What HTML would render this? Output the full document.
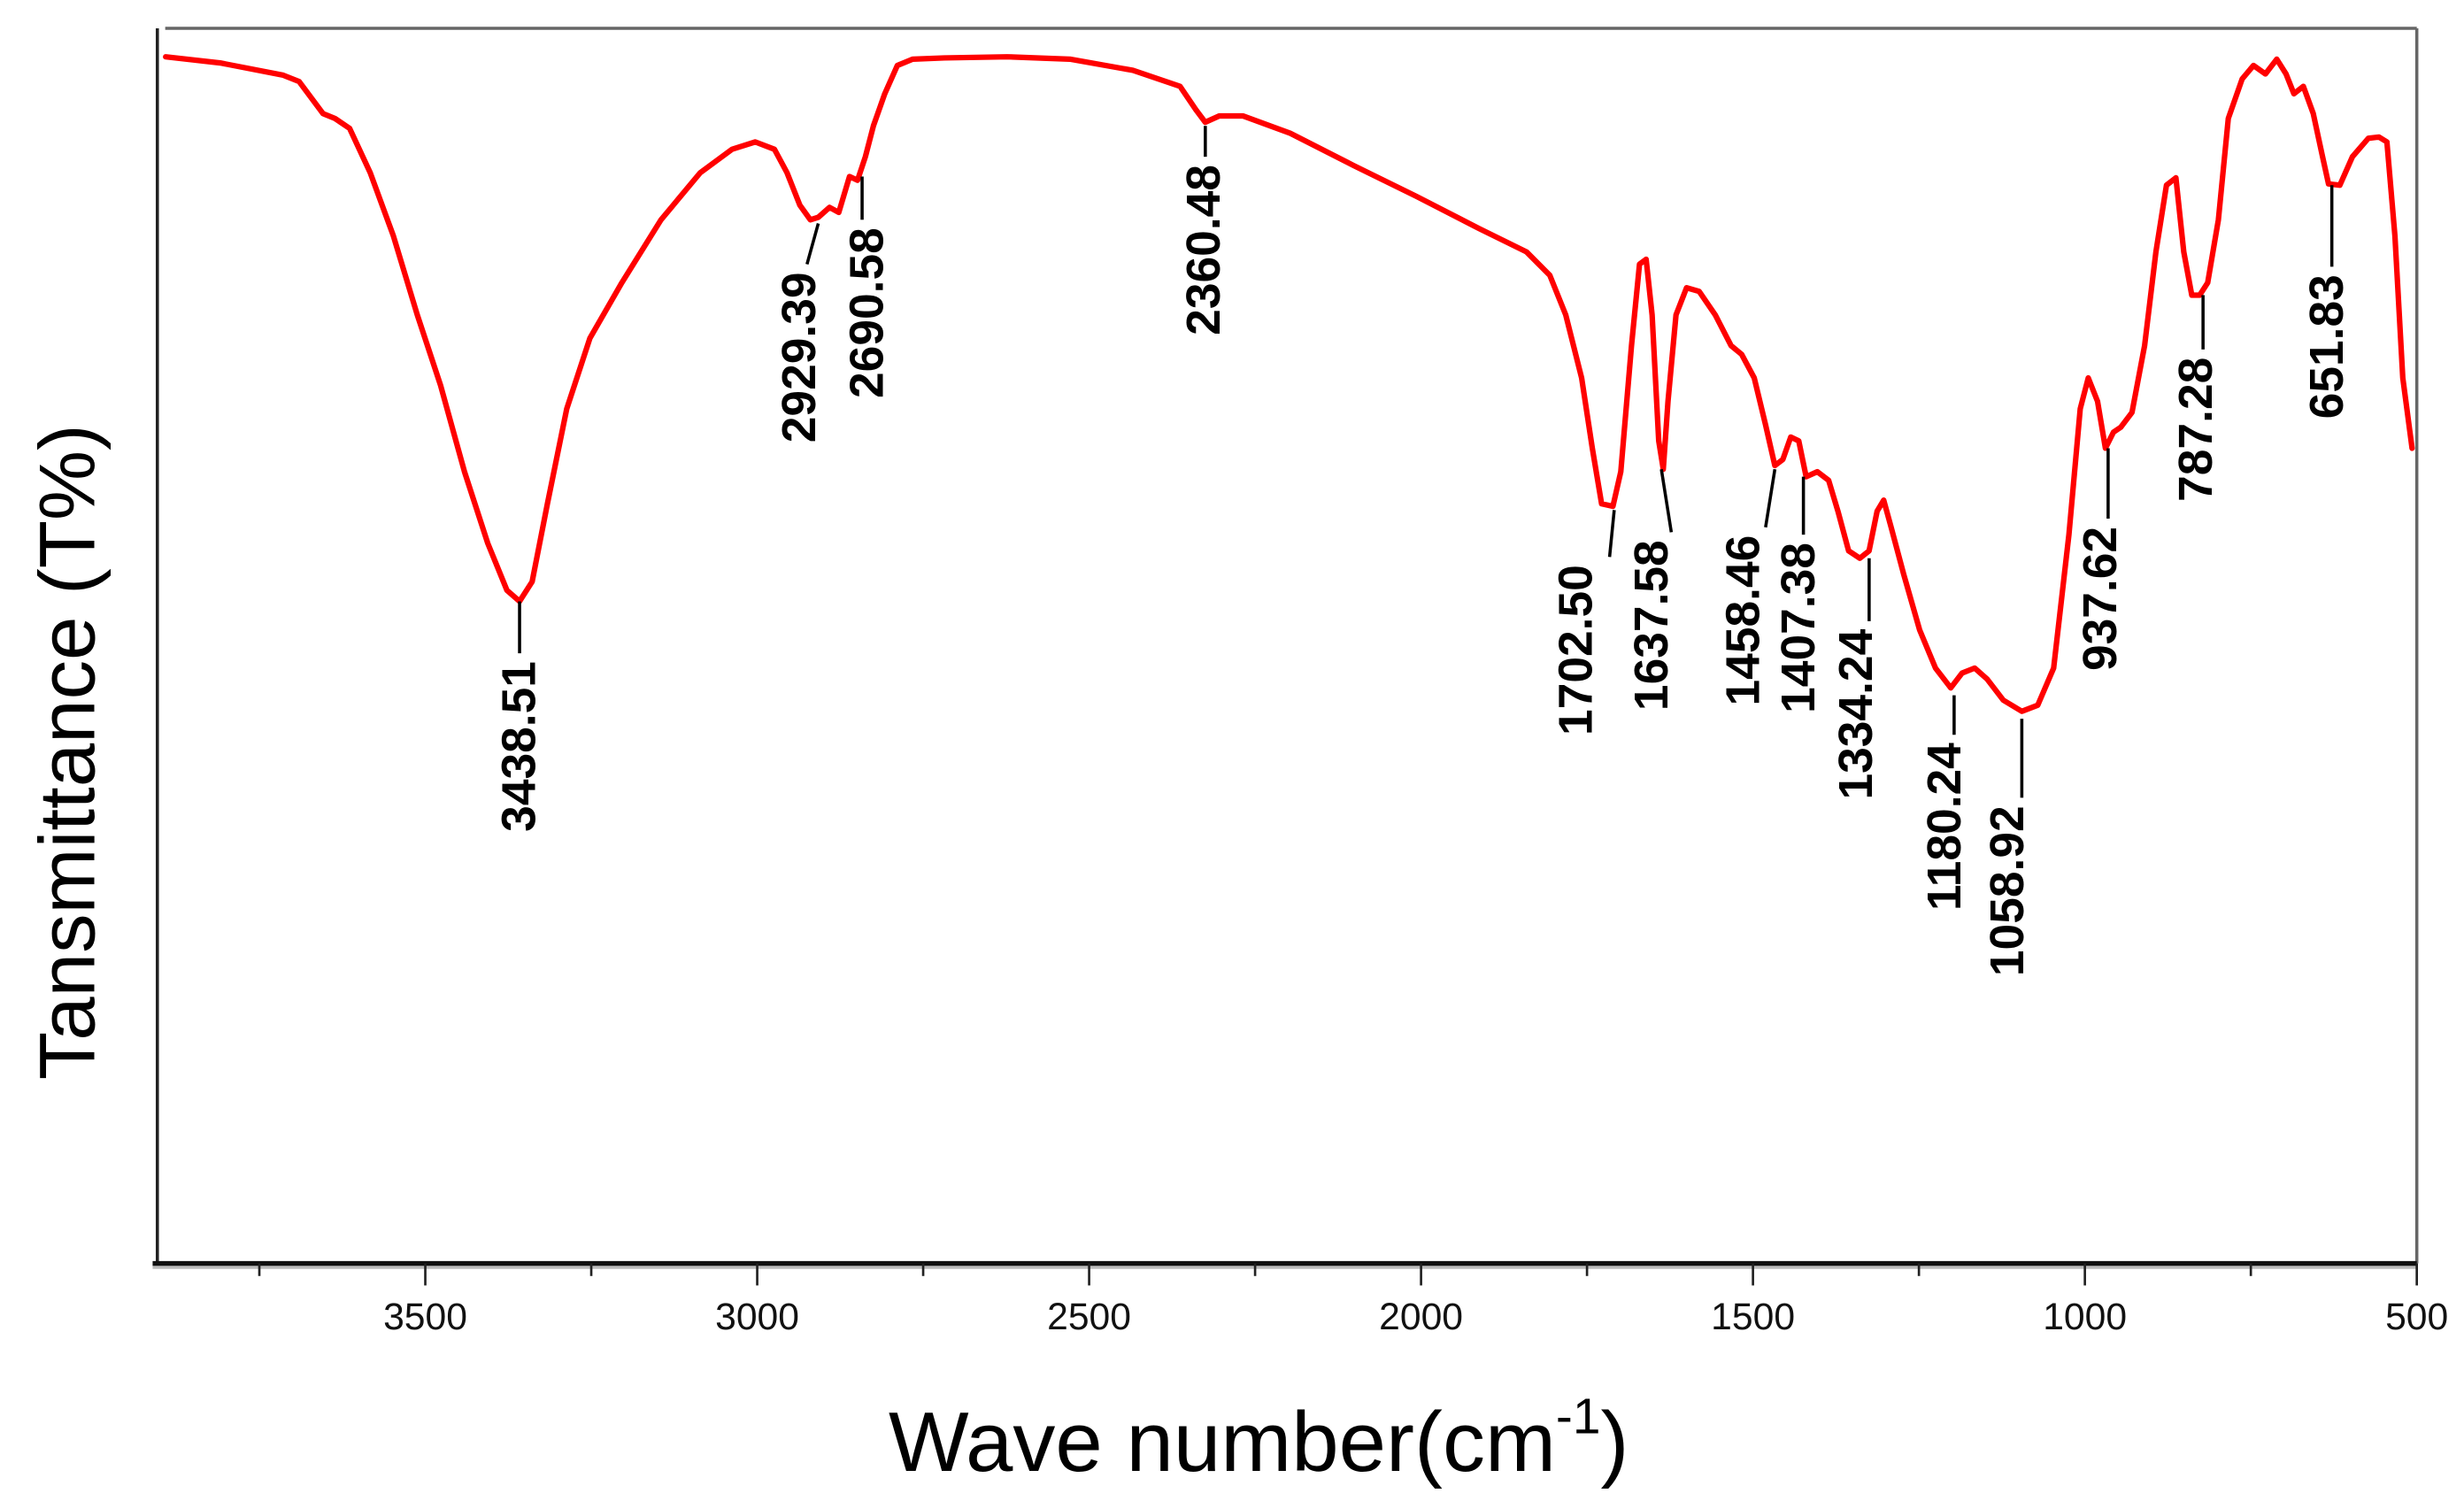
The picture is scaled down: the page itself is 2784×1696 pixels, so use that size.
<!DOCTYPE html>
<html><head><meta charset="utf-8"><style>
html,body{margin:0;padding:0;background:#fff;}
svg{display:block;}
text{font-family:"Liberation Sans",Arial,sans-serif;}
</style></head><body>
<svg id="chart" width="2784" height="1696" viewBox="0 0 1566 954" xmlns="http://www.w3.org/2000/svg">
<rect x="0" y="0" width="1566" height="954" fill="#fff"/>
<g id="frame">
<line x1="105" y1="18" x2="1536" y2="18" stroke="#666" stroke-width="2"/>
<line x1="1536" y1="18" x2="1536" y2="803" stroke="#666" stroke-width="2"/>
<line x1="100" y1="18" x2="100" y2="803" stroke="#222" stroke-width="2"/>
<line x1="97" y1="805" x2="1536" y2="805" stroke="#bbb" stroke-width="3"/>
<line x1="97" y1="803" x2="1536" y2="803" stroke="#111" stroke-width="3"/>
</g>
<g id="ticks"></g>
<path id="curve" fill="none" stroke="#ff0000" stroke-width="3.5" stroke-linejoin="round" stroke-linecap="round"/>
<g id="ann"></g>
<text x="800" y="935" font-size="54" text-anchor="middle" fill="#000">Wave number(cm<tspan font-size="32" dy="-24">-1</tspan><tspan dy="24">)</tspan></text>
<text transform="translate(60,478) rotate(-90)" font-size="50" text-anchor="middle" fill="#000">Tansmittance (T%)</text>
</svg>
<script>
const wn = [3891,3809,3714,3690,3654,3636,3614,3583,3548,3512,3477,3441,3406,3377,3358,3339,3316,3287,3252,3204,3145,3086,3038,3003,2974,2955,2936,2920,2908,2891,2877,2861,2849,2837,2825,2808,2789,2766,2718,2624,2529,2434,2363,2339,2325,2304,2268,2197,2102,2007,1913,1841,1806,1782,1758,1742,1728,1711,1699,1683,1671,1661,1652,1642,1635,1628,1616,1600,1581,1557,1533,1517,1498,1481,1467,1455,1443,1431,1420,1403,1386,1372,1356,1339,1325,1313,1303,1292,1273,1249,1225,1202,1185,1166,1147,1123,1095,1071,1047,1024,1007,995,981,969,957,946,929,910,893,877,863,851,839,827,815,799,784,763,746,728,711,697,685,671,656,642,633,616,597,573,557,545,533,521,507];
const trans = [97.7,97.2,96.2,95.7,93.1,92.7,91.9,88.3,83.2,76.8,71.1,64.1,58.3,54.5,53.6,55.2,61.5,69.2,74.9,79.4,84.5,88.3,90.2,90.8,90.2,88.3,85.7,84.5,84.7,85.5,85.1,88.0,87.7,89.6,92.1,94.7,97.0,97.5,97.6,97.7,97.5,96.6,95.3,93.4,92.4,92.9,92.9,91.5,88.9,86.4,83.8,81.9,80.0,76.8,71.7,66.0,61.5,61.3,64.1,74.3,80.9,81.3,76.8,66.6,64.3,69.8,76.8,79.0,78.7,76.8,74.3,73.6,71.7,67.9,64.6,65.1,66.9,66.6,63.7,64.1,63.4,60.9,57.7,57.1,57.7,60.9,61.8,59.6,55.8,51.3,48.2,46.6,47.8,48.2,47.3,45.6,44.7,45.2,48.2,59.0,69.2,71.7,69.8,66.0,67.3,67.7,68.9,74.3,81.9,87.3,87.9,81.9,78.4,78.4,79.4,84.5,92.7,95.9,97.0,96.3,97.5,96.3,94.7,95.3,93.1,89.6,87.4,87.3,89.6,91.1,91.2,90.8,83.2,71.7,66.0];
const majorTicks = [3500,3000,2500,2000,1500,1000,500];
const minorTicks = [3750,3250,2750,2250,1750,1250,750];
const tickLabels = ["3500","3000","2500","2000","1500","1000","500"];
const annLabels = ["3438.51","2929.39","2690.58","2360.48","1702.50","1637.58","1458.46","1407.38","1334.24","1180.24","1058.92","937.62","787.28","651.83"];
const annTopW = [3358,2908,2842,2325,1709,1638,1467,1424,1325,1197,1095,965,822,628];
const annTopT = [53.6,84.2,88.0,92.1,61.0,64.3,64.3,63.7,57.1,46.0,44.1,66.0,78.4,87.3];
const annBotW = [3358,2925,2842,2325,1716,1623,1481,1424,1325,1197,1095,965,822,628];
const annBotT = [49.4,80.9,84.5,89.6,57.2,59.2,59.6,59.0,52.0,42.8,37.7,60.3,74.0,80.7];
const annTextW = [3358,2936,2834,2327,1766,1652,1514,1431,1344,1211,1116,976,832,635];

const NS = "http://www.w3.org/2000/svg";
function xs(w){ return 1536 - (w - 500) * 0.4219; }
function ys(t){ return 803 - t * 7.85; }

let d = "";
for (let i = 0; i < wn.length; i++) {
  d += (i ? "L" : "M") + xs(wn[i]).toFixed(1) + "," + ys(trans[i]).toFixed(1);
}
document.getElementById("curve").setAttribute("d", d);

const tg = document.getElementById("ticks");
majorTicks.forEach((w, i) => {
  const l = document.createElementNS(NS, "line");
  
  
  l.setAttribute("x1", xs(w)); l.setAttribute("x2", xs(w));
  l.setAttribute("y1", 803); l.setAttribute("y2", 817);
  l.setAttribute("stroke", "#222"); l.setAttribute("stroke-width", "1.5");
  tg.appendChild(l);
  const t = document.createElementNS(NS, "text");
  
  
  t.setAttribute("x", xs(w)); t.setAttribute("y", 845);
  t.setAttribute("font-size", "24"); t.setAttribute("text-anchor", "middle");
  t.setAttribute("fill", "#111");
  t.textContent = tickLabels[i];
  tg.appendChild(t);
});
minorTicks.forEach((w) => {
  const l = document.createElementNS(NS, "line");
  
  
  l.setAttribute("x1", xs(w)); l.setAttribute("x2", xs(w));
  l.setAttribute("y1", 803); l.setAttribute("y2", 811);
  l.setAttribute("stroke", "#222"); l.setAttribute("stroke-width", "1.5");
  tg.appendChild(l);
});

const ag = document.getElementById("ann");
annLabels.forEach((lab, i) => {
  const l = document.createElementNS(NS, "line");
  
  
  l.setAttribute("x1", xs(annTopW[i])); l.setAttribute("y1", ys(annTopT[i]));
  l.setAttribute("x2", xs(annBotW[i])); l.setAttribute("y2", ys(annBotT[i]));
  l.setAttribute("stroke", "#000"); l.setAttribute("stroke-width", "2");
  ag.appendChild(l);
  const tx = xs(annTextW[i]), ty = ys(annBotT[i]) + 5;
  const t = document.createElementNS(NS, "text");
  
  
  t.setAttribute("x", tx); t.setAttribute("y", ty);
  t.setAttribute("transform", "rotate(-90 " + tx + " " + ty + ")");
  t.setAttribute("font-size", "30"); t.setAttribute("font-weight", "bold");
  t.setAttribute("text-anchor", "end"); t.setAttribute("dominant-baseline", "central");
  t.setAttribute("fill", "#000");
  t.textContent = lab;
  ag.appendChild(t);
});
</script>
</body></html>
